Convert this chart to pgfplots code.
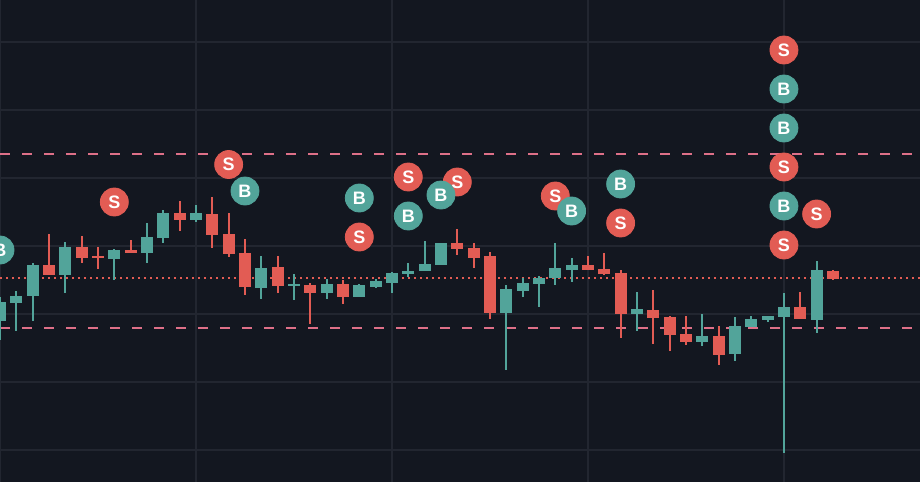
\documentclass[border=0pt]{standalone}
\usepackage{pgfplots}
\pgfplotsset{compat=1.18}
\usepackage{pgfplotstable}
\usepackage{fontspec}
\setsansfont{Liberation Sans}

\definecolor{bg}{RGB}{19,23,32}
\definecolor{gridc}{RGB}{34,38,48}
\definecolor{up}{RGB}{82,164,154}
\definecolor{down}{RGB}{226,92,84}
\definecolor{band}{RGB}{222,112,136}

% candles: bar index, open, high, low, close (price axis runs downwards)
\pgfplotstableread{
i  O   H   L   C
0  321 297 340 302
1  303 291 331 296
2  296 263 321 265
4  275 242 293 247
7  259 249 280 250
9  253 223 263 237
10 238 210 243 213
12 220 205 222 213
16 288 256 299 268
18 286 274 300 284
20 293 279 299 284
22 297 284 297 285
23 287 279 288 281
24 283 272 293 273
25 274 263 277 271
26 271 241 271 264
27 265 243 265 243
31 313 285 370 289
32 291 278 297 283
33 284 276 307 278
34 278 243 285 268
35 270 258 282 265
39 314 292 331 309
43 342 314 346 336
45 354 317 361 326
46 327 316 327 319
47 320 316 322 316
48 317 293 453 307
50 320 261 333 270
}\upcandles

\pgfplotstableread{
i  O   H   L   C
3  265 234 275 275
5  247 236 263 258
6  256 247 269 258
8  250 240 253 253
11 213 201 231 220
13 214 197 248 235
14 234 213 257 254
15 253 239 295 287
17 267 256 293 286
19 285 283 324 293
21 284 280 304 297
28 243 229 255 249
29 248 243 268 258
30 256 252 319 313
36 265 256 270 270
37 269 253 275 274
38 273 270 338 314
40 310 290 344 318
41 317 316 351 335
42 334 316 345 342
44 336 326 365 355
49 307 292 319 319
51 271 270 280 279
}\downcandles

% trade signals
\pgfplotstableread{
i  y
7  202
14 164.5
22 237
25 177
28 182
34 196
38 223
48 50
48 167
48 245
50 214
}\sells

\pgfplotstableread{
i  y
0  250
15 191
22 198
25 216
27 195
35 211
38 184
48 89
48 128
48 206
}\buys

\pgfplotsset{
  wick/.style={draw=none, no markers,
    error bars/.cd, y dir=both, y explicit, error mark=none,
    error bar style={draw=#1, solid, line width=1pt}},
  body/.style={draw=none, no markers,
    error bars/.cd, y dir=both, y explicit, error mark=none,
    error bar style={draw=#1, solid, line width=6pt}},
  signal/.style={only marks, mark=*, mark size=7pt, color=#1,
    nodes near coords align=center,
    every node near coord/.append style={text=white,
      font=\sffamily\bfseries\fontsize{9}{11}\selectfont}},
}

\begin{document}
\begin{tikzpicture}
\begin{axis}[
  scale only axis, width=460pt, height=241pt,
  xmin=0, xmax=56.33, ymin=0, ymax=482, y dir=reverse,
  axis background/.style={fill=bg},
  axis line style={draw=none},
  xtick={0,12,24,36,48}, ytick={42,110,178,246,314,382,450},
  xticklabels={}, yticklabels={}, major tick length=0pt,
  grid=major, grid style={gridc, line width=0.7pt},
]
% levels
\addplot[band, line width=1pt, dash pattern=on 5pt off 6pt] coordinates {(0,154) (56.33,154)};
\addplot[band, line width=1pt, dash pattern=on 5pt off 6pt] coordinates {(0,328) (56.33,328)};
\addplot[down, line width=1pt, dash pattern=on 1pt off 2pt] coordinates {(0,277.7) (56.33,277.7)};

% candles
\addplot[wick=up] table[x=i, y expr={(\thisrow{H}+\thisrow{L})/2}, y error expr={(\thisrow{L}-\thisrow{H})/2}] {\upcandles};
\addplot[body=up] table[x=i, y expr={(\thisrow{O}+\thisrow{C})/2}, y error expr={abs(\thisrow{C}-\thisrow{O})/2}] {\upcandles};
\addplot[wick=down] table[x=i, y expr={(\thisrow{H}+\thisrow{L})/2}, y error expr={(\thisrow{L}-\thisrow{H})/2}] {\downcandles};
\addplot[body=down] table[x=i, y expr={(\thisrow{O}+\thisrow{C})/2}, y error expr={abs(\thisrow{C}-\thisrow{O})/2}] {\downcandles};

% signals
\addplot[signal=down, nodes near coords={S}] table[x=i, y=y] {\sells};
\addplot[signal=up, nodes near coords={B}] table[x=i, y=y] {\buys};
\end{axis}
\pgfresetboundingbox
\path[use as bounding box] (current axis.south west) rectangle (current axis.north east);
\end{tikzpicture}
\end{document}
